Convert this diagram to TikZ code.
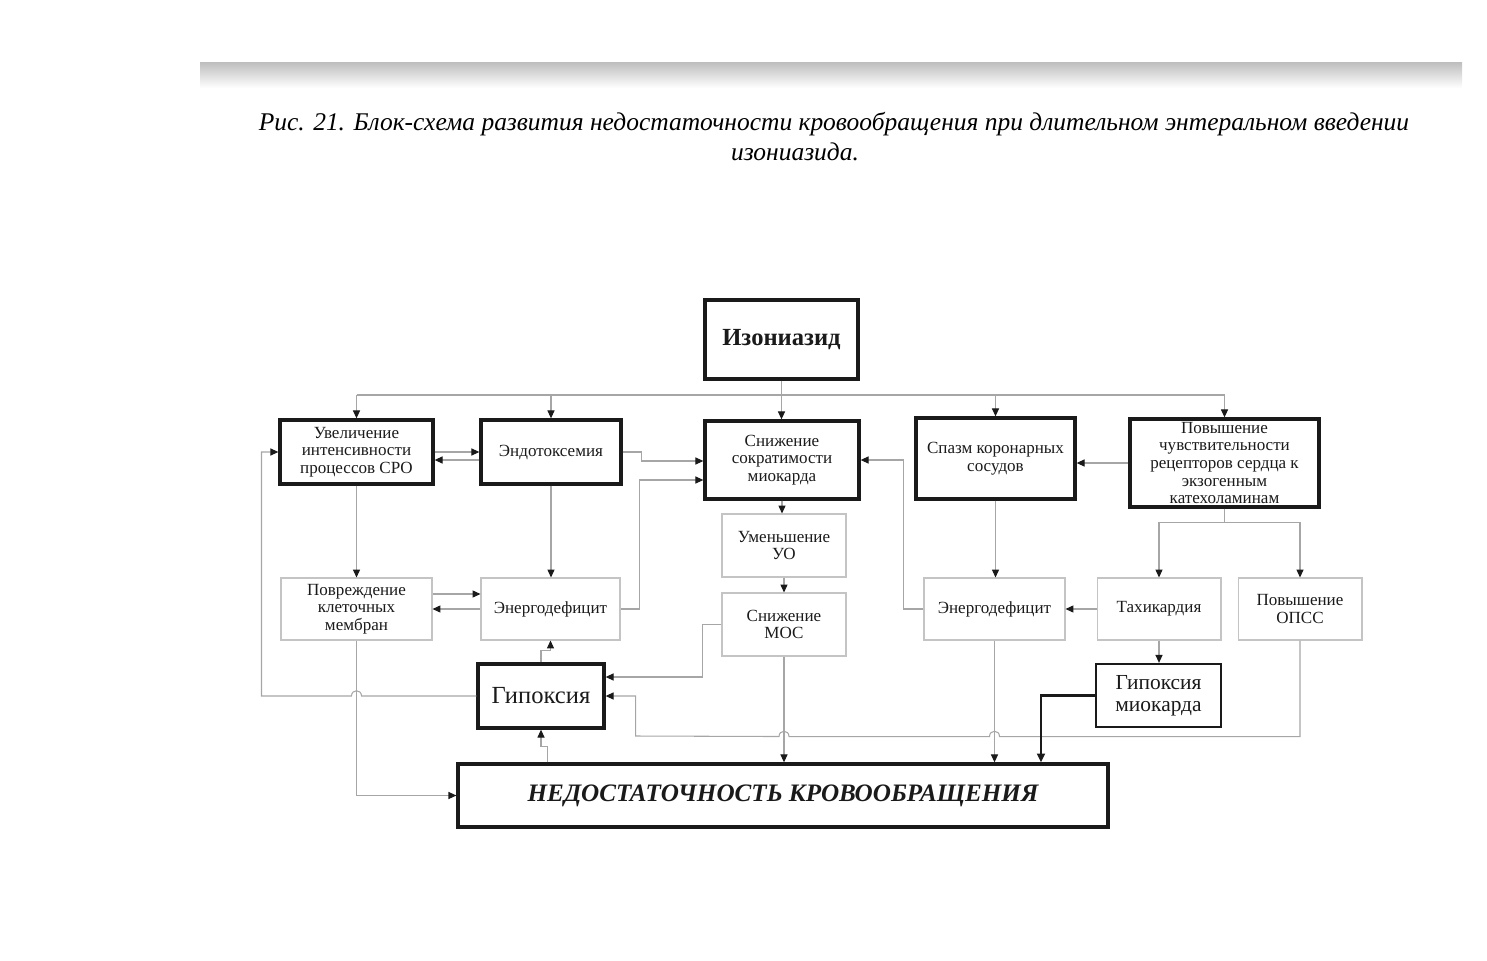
\documentclass[tikz,border=0pt]{standalone}
\usepackage{fontspec}
\setmainfont{Liberation Serif}
\usepackage{tikz}
\usetikzlibrary{arrows.meta,calc,positioning}
\definecolor{Ink}{HTML}{1A1A1A}
\definecolor{LineGray}{HTML}{A6A6A6}
\definecolor{BoxGray}{HTML}{C4C4C4}
\definecolor{BandGray}{HTML}{BDBDBD}
\newcommand{\boxfont}{\fontsize{9.7}{10}\selectfont}

\begin{document}
\begin{tikzpicture}[
    x=0.02cm, y=-0.02cm,
    heavybox/.style={draw=Ink, line width=1.9pt, align=center, inner sep=1pt,
      font=\boxfont, text=Ink},
    lightbox/.style={draw=BoxGray, line width=0.6pt, align=center, inner sep=1pt,
      font=\boxfont, text=Ink},
    line/.style={draw=LineGray, line width=0.6pt},
    link/.style={line, -{Triangle[length=4.5pt,width=4pt,color=Ink]}},
    boldlink/.style={draw=Ink, line width=1.4pt, -{Triangle[length=5pt,width=4.5pt]}}
  ]
  \useasboundingbox (0,0) rectangle (1487,960);

  % page edge and caption
  \shade[top color=BandGray, bottom color=white] (200,62) rectangle (1462,88);
  \node (capA) at (834,124) {\fontsize{14.5}{18}\selectfont\itshape Рис. 21. Блок-схема развития недостаточности кровообращения при длительном энтеральном введении};
  \node (capB) at (795,152) {\fontsize{14.5}{18}\selectfont\itshape изониазида.};

  % top level
  \node[heavybox, minimum width=3.06cm, minimum height=1.58cm, font=\fontsize{14}{16}\selectfont\bfseries] (izon) at (781.5,339.5) {Изониазид};
  \node[heavybox, minimum width=3.06cm, minimum height=1.28cm] (sro) at (356.5,452) {Увеличение\\интенсивности\\процессов СРО};
  \node[heavybox, minimum width=2.80cm, minimum height=1.28cm] (endo) at (551,452) {Эндотоксемия};
  \node[heavybox, minimum width=3.08cm, minimum height=1.56cm] (sokr) at (782,460) {Снижение\\сократимости\\миокарда};
  \node[heavybox, minimum width=3.18cm, minimum height=1.62cm] (spazm) at (995.5,458.5) {Спазм коронарных\\сосудов};
  \node[heavybox, minimum width=3.78cm, minimum height=1.76cm] (chuv) at (1224.5,463) {Повышение\\чувствительности\\рецепторов сердца к\\экзогенным\\катехоламинам};

  % second level
  \node[lightbox, minimum width=3.02cm, minimum height=1.24cm] (povr) at (356.5,609) {Повреждение\\клеточных\\мембран};
  \node[lightbox, minimum width=2.78cm, minimum height=1.24cm] (energL) at (550.5,609) {Энергодефицит};
  \node[lightbox, minimum width=2.48cm, minimum height=1.26cm] (uo) at (784,545.5) {Уменьшение\\УО};
  \node[lightbox, minimum width=2.48cm, minimum height=1.26cm] (mos) at (784,624.5) {Снижение\\МОС};
  \node[lightbox, minimum width=2.82cm, minimum height=1.24cm] (energR) at (994.5,609) {Энергодефицит};
  \node[lightbox, minimum width=2.48cm, minimum height=1.24cm] (tachy) at (1159,609) {Тахикардия};
  \node[lightbox, minimum width=2.48cm, minimum height=1.24cm] (opss) at (1300,609) {Повышение\\ОПСС};

  % bottom
  \node[heavybox, minimum width=2.52cm, minimum height=1.28cm, font=\fontsize{14}{16}\selectfont] (hypox) at (541,696) {Гипоксия};
  \node[heavybox, line width=1.3pt, minimum width=2.50cm, minimum height=1.26cm, font=\fontsize{12.2}{12.5}\selectfont] (hypoxM) at (1158.5,695.5) {Гипоксия\\миокарда};
  \node[heavybox, minimum width=13.0cm, minimum height=1.26cm, font=\fontsize{14.3}{16}\selectfont\bfseries\itshape] (insuf) at (783,795.5) {НЕДОСТАТОЧНОСТЬ КРОВООБРАЩЕНИЯ};

  % izoniazid bus
  \coordinate (bus) at (782,395);
  \draw[line] (bus -| sro.north) -- (bus -| chuv.north);
  \draw[link] (izon.south) -- (izon.south |- sokr.north);
  \draw[link] (bus -| sro.north) -- (sro.north);
  \draw[link] (bus -| endo.north) -- (endo.north);
  \draw[link] (bus -| spazm.north) -- (spazm.north);
  \draw[link] (bus -| chuv.north) -- (chuv.north);

  % first row links
  \draw[link] (sro.east) -- (sro.east -| endo.west);
  \draw[link] ($(endo.west)+(0,8)$) -- ($(sro.east)+(0,8)$);
  \draw[link] (endo.east) -- ++(19,0) |- ($(sokr.west)+(0,1)$);
  \draw[link] (energL.east) -- ++(19,0) |- ($(sokr.west)+(0,20)$);
  \draw[link] (energR.west) -- ++(-20,0) |- (sokr.east);
  \draw[link] (chuv.west) -- (chuv.west -| spazm.east);

  % down links
  \draw[link] (sro.south) -- (povr.north);
  \draw[link] (endo.south) -- (endo.south |- energL.north);
  \draw[link] (sokr.south) -- (sokr.south |- uo.north);
  \draw[link] (uo.south) -- (mos.north);
  \draw[link] (spazm.south) -- (spazm.south |- energR.north);
  \draw[line] (chuv.south) -- ++(0,14) coordinate (fork);
  \draw[link] (fork) -| (tachy.north);
  \draw[link] (fork) -| (opss.north);

  % second row links
  \draw[link] ($(povr.east)+(0,-15)$) -- ($(energL.west)+(0,-15)$);
  \draw[link] (energL.west) -- (povr.east);
  \draw[link] (tachy.west) -- (energR.east);
  \draw[link] (tachy.south) -- (tachy.south |- hypoxM.north);

  % hypoxia loops
  \draw[link] (hypox.north) -- ++(0,-12) -| (energL.south);
  \draw[link] (hypox.west) -- ($(hypox.west -| povr.south)+(5,0)$)
    .. controls +(0,-7) and +(0,-7) .. ++(-10,0) -- ++(-90,0) |- (sro.west);
  \draw[link] (mos.west) -- ++(-19,0) |- ($(hypox.east)+(0,-19)$);
  \draw[link] (opss.south) -- ++(0,96) -- ($(energR.south)+(5,96)$)
    .. controls +(0,-7) and +(0,-7) .. ++(-10,0) -- ($(mos.south)+(5,80)$)
    .. controls +(0,-7) and +(0,-7) .. ++(-10,0) -- ($(hypox.east)+(30,40)$) |- (hypox.east);
  \draw[link] ($(insuf.north west)+(91,0)$) -- ++(0,-16) -| (hypox.south);

  % into insufficiency
  \draw[link] (povr.south) |- (insuf.west);
  \draw[link] (mos.south) -- (mos.south |- insuf.north);
  \draw[link] (energR.south) -- (energR.south |- insuf.north);
  \draw[boldlink] (hypoxM.west) -| ($(insuf.north)+(258,0)$);
\end{tikzpicture}
\end{document}
